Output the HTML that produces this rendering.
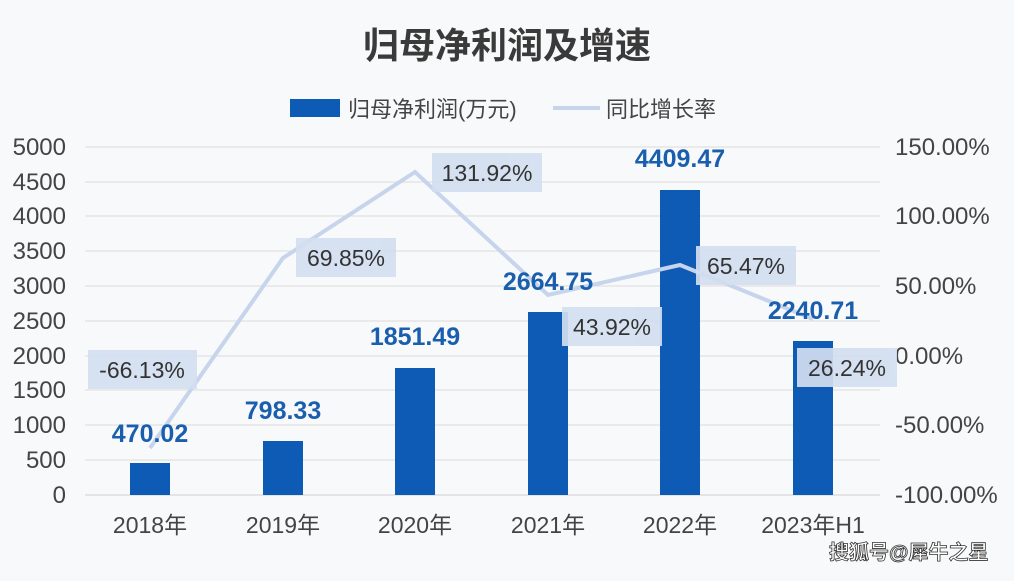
<!DOCTYPE html>
<html><head><meta charset="utf-8"><style>
body{margin:0;width:1014px;height:576px;overflow:hidden;background:#f7f8f9;font-family:"Liberation Sans","Noto Sans CJK SC",sans-serif;}
</style></head><body>
<svg width="1014" height="576" xmlns="http://www.w3.org/2000/svg" font-family="Liberation Sans, Noto Sans CJK SC, sans-serif">
<rect width="1014" height="576" fill="#f8f9fa"/>
<text x="507" y="58" font-size="36" font-weight="bold" fill="#3a3a3a" text-anchor="middle">归母净利润及增速</text>
<rect x="290" y="99" width="50" height="18" fill="#0e5bb5"/>
<text x="348" y="117" font-size="22" fill="#444">归母净利润(万元)</text>
<line x1="553" y1="108" x2="600" y2="108" stroke="#c6d4ec" stroke-width="4"/>
<text x="606" y="117" font-size="22" fill="#444">同比增长率</text>
<g stroke="#dcdcdc" stroke-width="1">
<line x1="85" x2="880" y1="147" y2="147"/><line x1="85" x2="880" y1="182" y2="182"/><line x1="85" x2="880" y1="216" y2="216"/><line x1="85" x2="880" y1="251" y2="251"/><line x1="85" x2="880" y1="286" y2="286"/><line x1="85" x2="880" y1="321" y2="321"/><line x1="85" x2="880" y1="356" y2="356"/><line x1="85" x2="880" y1="390" y2="390"/><line x1="85" x2="880" y1="425" y2="425"/><line x1="85" x2="880" y1="460" y2="460"/><line x1="85" x2="880" y1="495" y2="495" stroke="#cfcfcf"/>
</g>
<g font-size="24" fill="#444" text-anchor="end">
<text x="66" y="155">5000</text><text x="66" y="190">4500</text><text x="66" y="224">4000</text><text x="66" y="259">3500</text><text x="66" y="294">3000</text><text x="66" y="329">2500</text><text x="66" y="364">2000</text><text x="66" y="398">1500</text><text x="66" y="433">1000</text><text x="66" y="468">500</text><text x="66" y="503">0</text>
</g>
<g font-size="24" fill="#444">
<text x="895" y="155">150.00%</text><text x="895" y="224">100.00%</text><text x="895" y="294">50.00%</text><text x="895" y="364">0.00%</text><text x="895" y="433">-50.00%</text><text x="895" y="503">-100.00%</text>
</g>
<g font-size="23" fill="#444" text-anchor="middle">
<text x="150" y="533">2018年</text><text x="283" y="533">2019年</text><text x="415" y="533">2020年</text><text x="548" y="533">2021年</text><text x="680" y="533">2022年</text><text x="813" y="533">2023年H1</text>
</g>
<g fill="#0e5bb5">
<rect x="130" y="463" width="40" height="32"/>
<rect x="263" y="441" width="40" height="54"/>
<rect x="395" y="368" width="40" height="127"/>
<rect x="528" y="312" width="40" height="183"/>
<rect x="660" y="190" width="40" height="305"/>
<rect x="793" y="341" width="40" height="154"/>
</g>
<polyline points="150,448 283,258 415,172 548,295 680,265 813,319" fill="none" stroke="#c6d4ec" stroke-width="4"/>
<g font-size="25" font-weight="bold" fill="#1a5fae" text-anchor="middle">
<text x="150" y="442">470.02</text><text x="283" y="419">798.33</text><text x="415" y="345">1851.49</text><text x="548" y="290">2664.75</text><text x="680" y="167">4409.47</text><text x="813" y="319">2240.71</text>
</g>
<g fill="#d3def0" opacity="0.92">
<rect x="88" y="350" width="109" height="39"/>
<rect x="296" y="238" width="100" height="39"/>
<rect x="432" y="153" width="110" height="39"/>
<rect x="562" y="307" width="100" height="39"/>
<rect x="696" y="246" width="100" height="39"/>
<rect x="797" y="348" width="100" height="39"/>
</g>
<g font-size="23" fill="#333" text-anchor="middle">
<text x="142" y="378">-66.13%</text><text x="346" y="266">69.85%</text><text x="487" y="181">131.92%</text><text x="612" y="335">43.92%</text><text x="746" y="274">65.47%</text><text x="847" y="376">26.24%</text>
</g>
<text x="829" y="559" font-size="20" font-weight="bold" fill="#fff" stroke="#333" stroke-width="0.8">搜狐号@犀牛之星</text>
</svg>
</body></html>
